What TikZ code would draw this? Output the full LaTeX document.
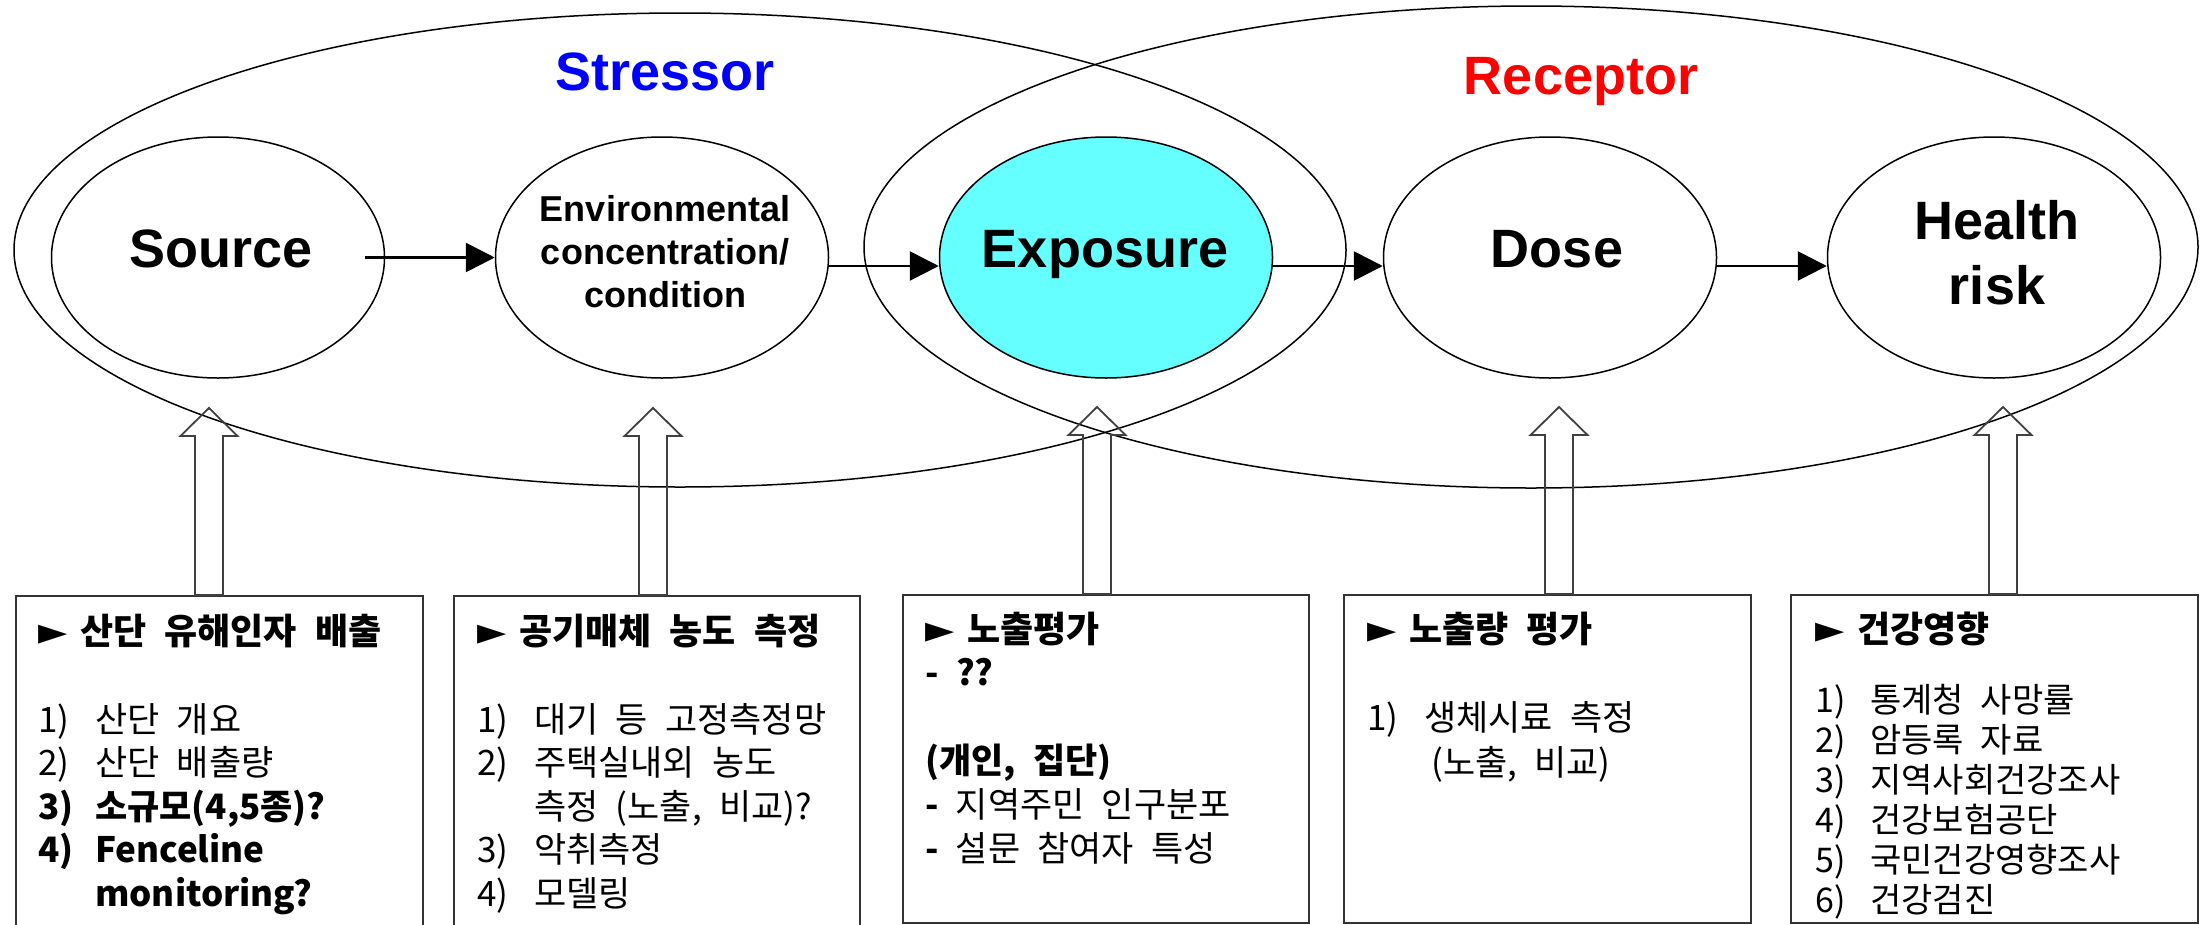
\documentclass[tikz,border=0pt]{standalone}
\usepackage{fontspec}
\setmainfont{Liberation Sans}
\newfontfamily\krfont[WordSpace=2.2]{Noto Sans CJK KR}
\newfontfamily\symfont{DejaVu Sans}
\usetikzlibrary{shapes.geometric,arrows.meta,calc}
\definecolor{expcyan}{RGB}{102,255,255}
\definecolor{stressblue}{RGB}{0,0,255}
\definecolor{receptred}{RGB}{255,0,0}
\newcommand\hdptr{\makebox[42pt][l]{{\symfont\fontsize{38}{38}\selectfont ►}}}
\newcommand\itemnum[1]{\makebox[57pt][l]{#1}}
\newcommand\boxlines[2]{\vtop{\baselineskip=#1\relax\lineskiplimit=-200pt #2}}
\tikzset{
  zone/.style={draw, ellipse, line width=1.5pt, inner sep=0pt},
  stage/.style={draw, ellipse, line width=1.5pt, inner sep=0pt, minimum width=333pt, minimum height=241pt},
  stagelabel/.style={font=\bfseries\fontsize{54}{65}\selectfont, align=center, inner sep=0pt},
  flow/.style={line width=2.8pt, -{Triangle[length=29pt,width=29pt]}},
  upblock/.style={draw=black!75, line width=1.8pt},
  infobox/.style={draw=black!80, line width=1.8pt, inner sep=0pt, anchor=north west},
  boxtext/.style={inner sep=0pt, anchor=base west, font=\krfont\fontsize{35}{44}\selectfont},
  boxhead/.style={inner sep=0pt, anchor=base west, font=\krfont\bfseries\fontsize{36}{44}\selectfont},
}
\begin{document}
\begin{tikzpicture}[x=1pt,y=-1pt]
\useasboundingbox (0,0) rectangle (2208,924);
% zones
\node[zone, minimum width=1332pt, minimum height=474pt] (stressorzone) at (680,250) {};
\node[zone, minimum width=1334pt, minimum height=482pt] (receptorzone) at (1531,247) {};
\node[font=\bfseries\fontsize{54}{64}\selectfont, text=stressblue, anchor=base, inner sep=0pt] (stressorlabel) at (665,90) {Stressor};
\node[font=\bfseries\fontsize{54}{64}\selectfont, text=receptred, anchor=base, inner sep=0pt] (receptorlabel) at (1581,94) {Receptor};
% stages
\node[stage] (source) at (218,257.5) {};
\node[stage] (env) at (662,257.5) {};
\node[stage, fill=expcyan] (exposure) at (1106,257.5) {};
\node[stage] (dose) at (1550,257.5) {};
\node[stage] (health) at (1994,257.5) {};
\node[stagelabel, anchor=base] (sourcetxt) at (221,267) {Source};
\node[stagelabel, font=\bfseries\fontsize{36}{43}\selectfont] (envtxt) at (665,252) {Environmental\\concentration/\\condition};
\node[stagelabel, anchor=base] (exposuretxt) at (1105,267) {Exposure};
\node[stagelabel, anchor=base] (dosetxt) at (1557,267) {Dose};
\node[stagelabel] (healthtxt) at (1997,252.5) {Health\\risk};
% flow arrows
\draw[flow] ([xshift=-20pt]source.east) -- (env.west);
\draw[flow] ([yshift=-8.5pt]env.east) -- ([yshift=-8.5pt]exposure.west);
\draw[flow] ([yshift=-8.5pt]exposure.east) -- ([yshift=-8.5pt]dose.west);
\draw[flow] ([yshift=-8.5pt]dose.east) -- ([yshift=-8.5pt]health.west);
% boxes
\node[infobox, minimum width=407pt, minimum height=400pt] (b1) at (15,595) {};
\node[infobox, minimum width=406pt, minimum height=400pt] (b2) at (453,595) {};
\node[infobox, minimum width=406pt, minimum height=328pt] (b3) at (902,594) {};
\node[infobox, minimum width=407pt, minimum height=328pt] (b4) at (1343,594) {};
\node[infobox, minimum width=407pt, minimum height=328pt] (b5) at (1790,594) {};
% up block arrows
\coordinate (u1) at ($(source.center |- b1.north)+(-9,0)$);
\coordinate (u2) at ($(env.center |- b2.north)+(-9,0)$);
\coordinate (u3) at ($(exposure.center |- b3.north)+(-9,0)$);
\coordinate (u4) at ($(dose.center |- b4.north)+(9,0)$);
\coordinate (u5) at ($(health.center |- b5.north)+(9,0)$);
\foreach \ua in {u1,u2,u3,u4,u5}
  \draw[upblock] (\ua) ++(-14,0) -- ++(0,-159) -- ++(-14.5,0) -- ++(28.5,-28) -- ++(28.5,28) -- ++(-14.5,0) -- ++(0,159) -- cycle;
% box texts
\node[boxhead] (h1) at (38,644) {\hdptr 산단 유해인자 배출};
\node[boxtext] (t1) at (38,732) {\boxlines{43.5pt}{%
  \hbox{\itemnum{1)}산단 개요}%
  \hbox{\itemnum{2)}산단 배출량}%
  \hbox{\bfseries\itemnum{3)}소규모(4,5종)?}%
  \hbox{\bfseries\itemnum{4)}Fenceline}%
  \hbox{\bfseries\itemnum{}monitoring?}}};
\node[boxhead] (h2) at (477,644) {\hdptr 공기매체 농도 측정};
\node[boxtext] (t2) at (477,732) {\boxlines{43.5pt}{%
  \hbox{\itemnum{1)}대기 등 고정측정망}%
  \hbox{\itemnum{2)}주택실내외 농도}%
  \hbox{\itemnum{}측정 (노출, 비교)?}%
  \hbox{\itemnum{3)}악취측정}%
  \hbox{\itemnum{4)}모델링}}};
\node[boxhead] (h3) at (925,642) {\hdptr 노출평가};
\node[boxtext] (t3) at (925,685) {\boxlines{44pt}{%
  \hbox{\bfseries - ??}%
  \hbox{}%
  \hbox{\bfseries (개인, 집단)}%
  \hbox{{\bfseries -} 지역주민 인구분포}%
  \hbox{{\bfseries -} 설문 참여자 특성}}};
\node[boxhead] (h4) at (1367,642) {\hdptr 노출량 평가};
\node[boxtext] (t4) at (1367,730) {\boxlines{45pt}{%
  \hbox{\itemnum{1)}생체시료 측정}%
  \hbox{\itemnum{}\hspace{7pt}(노출, 비교)}}};
\node[boxhead] (h5) at (1815,642) {\hdptr 건강영향};
\node[boxtext, font=\krfont\fontsize{34}{40}\selectfont] (t5) at (1815,712) {\boxlines{40pt}{%
  \hbox{\makebox[55pt][l]{1)}통계청 사망률}%
  \hbox{\makebox[55pt][l]{2)}암등록 자료}%
  \hbox{\makebox[55pt][l]{3)}지역사회건강조사}%
  \hbox{\makebox[55pt][l]{4)}건강보험공단}%
  \hbox{\makebox[55pt][l]{5)}국민건강영향조사}%
  \hbox{\makebox[55pt][l]{6)}건강검진}}};
\end{tikzpicture}
\end{document}
